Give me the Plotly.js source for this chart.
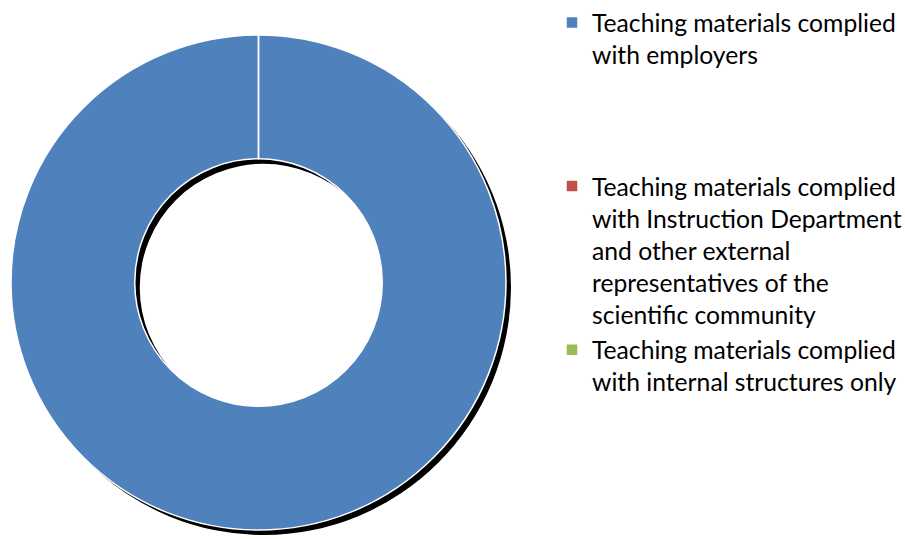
<!DOCTYPE html>
<html>
<head>
<meta charset="utf-8">
<script src="https://cdn.plot.ly/plotly-3.0.1.min.js"></script>
<style>html,body{margin:0;padding:0;background:#fff;}#chart{width:905px;height:539px;}</style>
</head>
<body>
<div id="chart"></div>
<script>
// ---- data ----
var categories = [
  "Teaching materials complied<br>with employers",
  "Teaching materials complied<br>with Instruction Department<br>and other external<br>representatives of the<br>scientific community",
  "Teaching materials complied<br>with internal structures only"
];
var values = [100, 0, 0];
var sliceColors = ["#4F81BD", "#C0504D", "#9BBB59"];

// pad each legend entry to the same number of lines (layout spacing)
var maxLines = Math.max.apply(null, categories.map(function (c) { return c.split("<br>").length; }));
var legendLabels = categories.map(function (c, i) {
  var n = c.split("<br>").length;
  var s = c;
  if (i < categories.length - 1) { for (var k = n; k < maxLines; k++) s += "<br> "; }
  return s;
});

var W = 905, H = 539;
var cx = 258.5, cy = 282.5, R = 247.5, off = 5;
function dom(x0, y0) {
  return { x: [(x0 - R) / W, (x0 + R) / W], y: [(H - y0 - R) / H, (H - y0 + R) / H] };
}

var shadow = {
  type: "pie", labels: legendLabels, values: values, hole: 0.5, sort: false,
  direction: "clockwise", rotation: 0,
  marker: { colors: ["#000000", "#000000", "#000000"], line: { width: 0 } },
  textinfo: "none", hoverinfo: "skip", showlegend: false,
  domain: dom(cx + off, cy + off)
};
var donut = {
  type: "pie", labels: legendLabels, values: values, hole: 0.5, sort: false,
  direction: "clockwise", rotation: 0,
  marker: { colors: sliceColors, line: { color: "#FFFFFF", width: 1.5 } },
  textinfo: "none", showlegend: true,
  domain: dom(cx, cy)
};

var layout = {
  width: W, height: H,
  margin: { l: 0, r: 0, t: 0, b: 0, autoexpand: false },
  paper_bgcolor: "#FFFFFF",
  font: { family: "Lato, 'Liberation Sans', sans-serif", color: "#000000", size: 24.7 },
  showlegend: true,
  legend: {
    x: 552 / W, xanchor: "left", y: 1.0, yanchor: "top",
    valign: "top", bgcolor: "rgba(0,0,0,0)", borderwidth: 0,
    font: { size: 24.7, color: "#000000" }, traceorder: "normal"
  }
};

Plotly.newPlot("chart", [shadow, donut], layout, { displayModeBar: false, staticPlot: true });
</script>
</body>
</html>
